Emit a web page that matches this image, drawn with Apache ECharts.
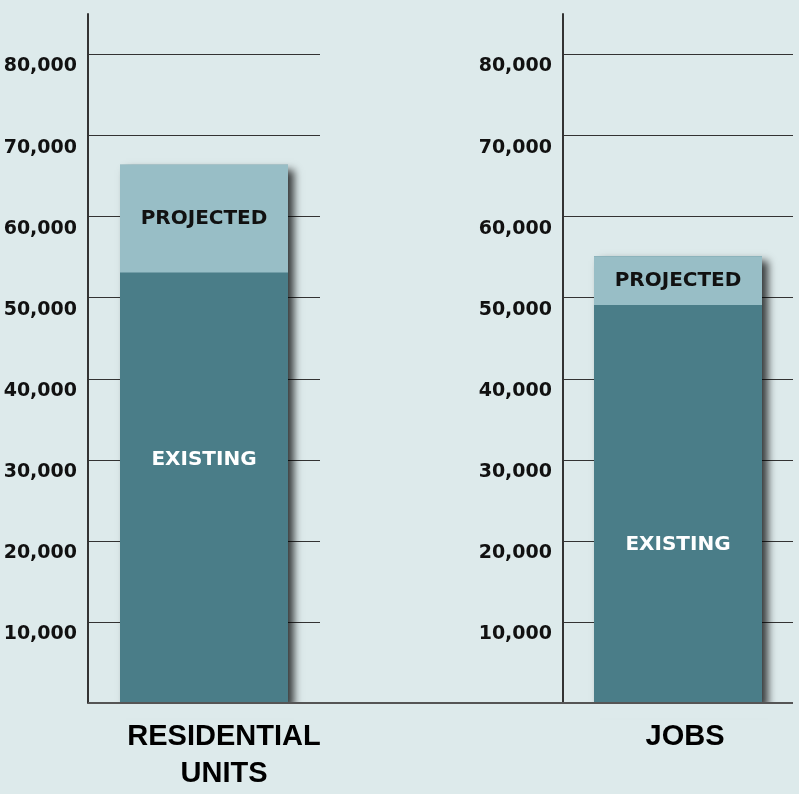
<!DOCTYPE html>
<html>
<head>
<meta charset="utf-8">
<script src="https://cdn.jsdelivr.net/npm/echarts@6/dist/echarts.min.js"></script>
<style>
html,body{margin:0;padding:0;background:#ddeaeb;}
#chart{width:799px;height:794px;}
</style>
</head>
<body>
<div id="chart"></div>
<script>
// ---- data ----
const categories = ['RESIDENTIAL\nUNITS', 'JOBS'];
const existing = [53100, 49100];
const projected = [13300, 6000];
const seriesNames = ['EXISTING', 'PROJECTED'];
const yMin = 0, yMax = 85000, yInterval = 10000;

// ---- styles ----
const bg = '#ddeaeb';
const existingColor = '#4a7d88';
const projectedColor = '#98bec6';
const gridLeft = [88, 563];
const gridRight = [479, 6];
const catLabelPad = [[0, 0, 0, 40], [0, 0, 0, 14]];
const existingLabelOffset = [[0, -28], [0, 41]];

const chart = echarts.init(document.getElementById('chart'));
const grids = [], xAxes = [], yAxes = [], series = [];
for (let i = 0; i < categories.length; i++) {
  grids.push({left: gridLeft[i], right: gridRight[i], top: 14, bottom: 91, containLabel: false});
  xAxes.push({
    type: 'category', gridIndex: i, data: [categories[i]],
    axisLine: {show: false}, axisTick: {show: false},
    axisLabel: {
      margin: 15, color: '#000', fontFamily: 'Liberation Sans', fontWeight: 'bold',
      fontSize: 29, lineHeight: 37, padding: catLabelPad[i], interval: 0
    }
  });
  yAxes.push({
    type: 'value', gridIndex: i, min: yMin, max: yMax, interval: yInterval,
    axisLine: {show: true, lineStyle: {color: '#333', width: 2}},
    axisTick: {show: false},
    splitLine: {show: true, showMinLine: false, showMaxLine: false, lineStyle: {color: '#333', width: 1}},
    axisLabel: {
      margin: 11, color: '#111', fontFamily: 'DejaVu Sans', fontWeight: 'bold', fontSize: 19,
      verticalAlign: 'top', lineHeight: 24, showMinLabel: false, showMaxLabel: false,
      formatter: v => v.toLocaleString('en-US')
    }
  });
  // soft drop shadow under the whole stacked column (total = existing + projected)
  series.push({
    name: 'shadow', type: 'bar', xAxisIndex: i, yAxisIndex: i,
    data: [existing[i] + projected[i]], barWidth: 168, barGap: '-100%', z: 1, silent: true,
    itemStyle: {color: existingColor, shadowColor: 'rgba(0,0,0,0.75)', shadowBlur: 8, shadowOffsetX: 6, shadowOffsetY: 5}
  });
  series.push({
    name: seriesNames[0], type: 'bar', stack: 's' + i, xAxisIndex: i, yAxisIndex: i,
    data: [existing[i]], barWidth: 168, barGap: '-100%', z: 2,
    itemStyle: {color: existingColor},
    label: {show: true, position: 'inside', offset: existingLabelOffset[i], formatter: '{a}',
      color: '#fff', fontFamily: 'DejaVu Sans', fontWeight: 'bold', fontSize: 20}
  });
  series.push({
    name: seriesNames[1], type: 'bar', stack: 's' + i, xAxisIndex: i, yAxisIndex: i,
    data: [projected[i]], barWidth: 168, barGap: '-100%', z: 2,
    itemStyle: {color: projectedColor},
    label: {show: true, position: 'inside', formatter: '{a}',
      color: '#111', fontFamily: 'DejaVu Sans', fontWeight: 'bold', fontSize: 20}
  });
}

chart.setOption({
  backgroundColor: bg,
  animation: false,
  grid: grids, xAxis: xAxes, yAxis: yAxes, series: series,
  graphic: [{
    type: 'rect', z: 90, silent: true,
    shape: {x: 80, y: 704, width: 719, height: 14},
    style: {fill: bg}
  }, {
    type: 'line', z: 100, silent: true,
    shape: {x1: 88, y1: 703, x2: 793, y2: 703},
    style: {stroke: '#555', lineWidth: 2}
  }]
});
</script>
</body>
</html>
